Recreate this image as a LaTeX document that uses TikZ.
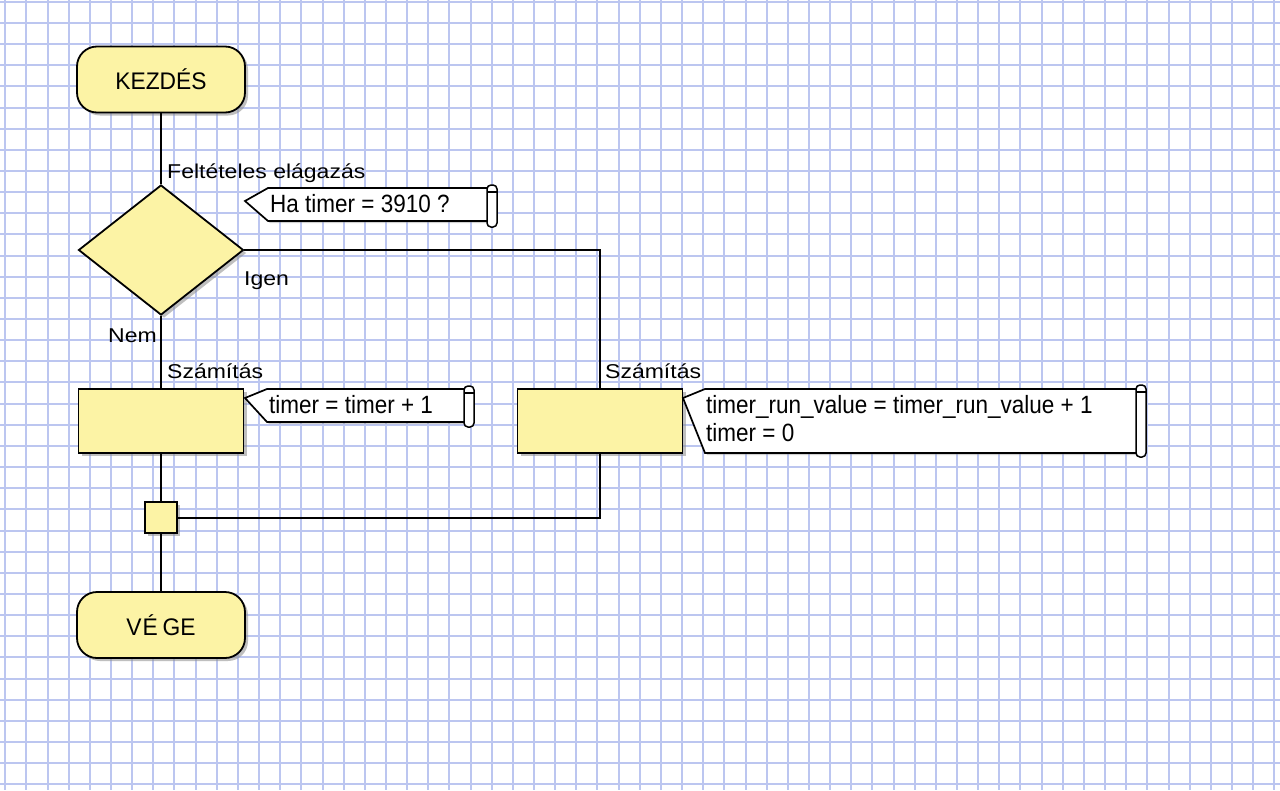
\documentclass[tikz,border=0pt]{standalone}
\usepackage{fontspec}
\setmainfont{Liberation Sans}
\newfontfamily\lblfont[FakeStretch=1.15]{Liberation Sans}
\newfontfamily\cmtfont[FakeStretch=0.9]{Liberation Sans}
\newfontfamily\trmfont[FakeStretch=0.95]{Liberation Sans}
\usetikzlibrary{shapes.geometric,shadows}
\definecolor{gridblue}{RGB}{188,198,240}
\definecolor{boxyellow}{RGB}{252,243,165}
\definecolor{shadowgray}{RGB}{140,140,140}
\begin{document}
\begin{tikzpicture}[x=1pt,y=-1pt,
  gridline/.style={draw=gridblue, line width=1.4pt},
  shad/.style={drop shadow={shadow xshift=3pt, shadow yshift=-3pt, fill=shadowgray, opacity=0.55}},
  terminal/.style={draw, line width=1.8pt, fill=boxyellow, shad, rounded corners=20pt,
    minimum width=168pt, minimum height=66pt, inner sep=0pt,
    font=\trmfont\fontsize{24}{28}\selectfont},
  decision/.style={diamond, draw, line width=1.8pt, fill=boxyellow, shad,
    minimum width=165pt, minimum height=130pt, inner sep=0pt},
  procbox/.style={draw, line width=1.8pt, fill=boxyellow, shad,
    minimum width=165pt, minimum height=64pt, inner sep=0pt},
  junction/.style={draw, line width=1.8pt, fill=boxyellow, shad,
    minimum width=32pt, minimum height=31pt, inner sep=0pt},
  conn/.style={draw, line width=2pt},
  lbl/.style={inner sep=0pt, font=\lblfont\fontsize{20}{24}\selectfont},
  cmt/.style={draw, line width=1.7pt, fill=white, drop shadow={shadow xshift=2pt, shadow yshift=-2pt, fill=shadowgray, opacity=0.4}},
  cmttext/.style={inner sep=0pt, anchor=base west, font=\cmtfont\fontsize{25}{28}\selectfont},
  scroll/.style={draw, line width=1.5pt, fill=white, rounded corners=4pt}
]
\useasboundingbox (0,0) rectangle (1280,790);
\fill[white] (0,0) rectangle (1280,790);
\foreach \i in {0,...,60} {
  \pgfmathsetmacro\gx{round(5.3+21.15*\i)}
  \draw[gridline] (\gx,0) -- (\gx,790);
}
\foreach \j in {0,...,37} {
  \pgfmathsetmacro\gy{round(1.8+21.15*\j)}
  \draw[gridline] (0,\gy) -- (1280,\gy);
}

% nodes
\node[terminal] (start) at (161,79.5) {KEZDÉS};
\node[decision] (dec) at (161,250) {};
\node[procbox] (p1) at (161,421) {};
\node[procbox] (p2) at (600,421) {};
\node[junction] (j) at (161,517.5) {};
\node[terminal] (end) at (161,625) {V\kern1ptÉ\kern5ptGE};

% connectors
\draw[conn] (start.south) -- (dec.north);
\draw[conn] (dec.south) -- (p1.north);
\draw[conn] (dec.east) -| (p2.north);
\draw[conn] (p1.south) -- (j.north);
\draw[conn] (p2.south) |- (j.east);
\draw[conn] (j.south) -- (end.north);

% labels
\node[lbl, anchor=base west] (lfelt) at (167,178) {Feltételes elágazás};
\node[lbl, anchor=base west] (ligen) at (244,285) {Igen};
\node[lbl, anchor=base east] (lnem) at (157,342) {Nem};
\node[lbl, anchor=base west] (lsz1) at (167,378) {Számítás};
\node[lbl, anchor=base west] (lsz2) at (605,378) {Számítás};

% comment 1
\path[cmt] (245,201) -- (268,188) -- (489,188) -- (489,221) -- (268,221) -- cycle;
\draw[scroll] (487,185) rectangle (497,227);
\draw[line width=1.2pt] (487,192) -- (497,192);
\node[cmttext] (c1) at (270,212) {Ha timer = 3910 ?};

% comment 2
\path[cmt] (245,398) -- (267,389) -- (466,389) -- (466,422) -- (267,422) -- cycle;
\draw[scroll] (464,386) rectangle (474,427);
\draw[line width=1.2pt] (464,393) -- (474,393);
\node[cmttext] (c2) at (269,413) {timer = timer + 1};

% comment 3
\path[cmt] (683,398) -- (705,389) -- (1138,389) -- (1138,453) -- (705,453) -- cycle;
\draw[scroll] (1136,385) rectangle (1146,457);
\draw[line width=1.2pt] (1136,392) -- (1146,392);
\node[cmttext] (c3a) at (706,413) {timer\_run\_value = timer\_run\_value + 1};
\node[cmttext] (c3b) at (706,441) {timer = 0};
\end{tikzpicture}
\end{document}
